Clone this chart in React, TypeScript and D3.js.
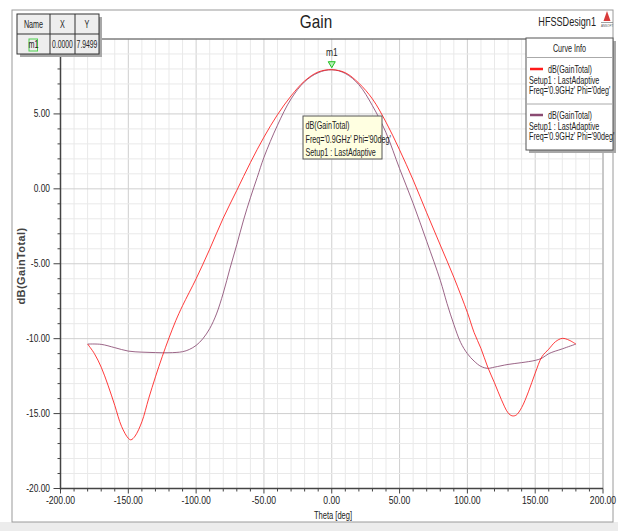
import React from "react";
import * as d3 from "d3";

// theta samples (deg) and gain (dB)
const thetaPhi0 = [-180, -175, -170, -165, -160, -155, -150, -148, -145, -140, -135, -130, -125, -120, -115, -110, -100, -90, -80, -70, -60, -50, -40, -30, -20, -10, 0, 10, 20, 30, 40, 50, 60, 70, 80, 90, 100, 105, 110, 115, 120, 125, 130, 133, 136, 140, 145, 150, 155, 160, 165, 170, 175, 180];
const gainPhi0 = [-10.36, -11.0, -11.9, -13.1, -14.45, -15.85, -16.65, -16.75, -16.5, -15.55, -14.0, -12.55, -11.2, -9.95, -8.8, -7.8, -6.0, -4.03, -1.95, -0.1, 1.75, 3.45, 4.95, 6.2, 7.2, 7.8, 7.95, 7.75, 7.05, 6.0, 4.45, 2.6, 0.59, -1.6, -3.75, -5.9, -8.25, -9.6, -10.65, -11.9, -12.95, -14.05, -14.95, -15.15, -15.1, -14.6, -13.55, -12.3, -11.2, -10.7, -10.2, -9.98, -10.1, -10.36];

const thetaPhi90 = [-180, -170, -160, -150, -140, -130, -120, -110, -105, -100, -95, -90, -85, -80, -75, -70, -65, -60, -55, -50, -40, -30, -20, -10, 0, 10, 20, 30, 40, 50, 60, 70, 80, 85, 90, 95, 100, 105, 110, 115, 120, 130, 140, 150, 155, 160, 170, 180];
const gainPhi90 = [-10.36, -10.38, -10.6, -10.83, -10.9, -10.93, -10.94, -10.87, -10.72, -10.45, -10.0, -9.33, -8.35, -6.96, -5.3, -3.72, -2.07, -0.6, 0.75, 2.1, 4.25, 6.0, 7.15, 7.75, 7.95, 7.7, 6.95, 5.55, 3.75, 1.35, -0.97, -3.5, -6.1, -7.65, -9.05, -10.25, -11.0, -11.5, -11.85, -11.98, -11.9, -11.72, -11.6, -11.45, -11.3, -11.0, -10.68, -10.36];

const xTicks = [-200, -150, -100, -50, 0, 50, 100, 150, 200];
const yTicks = [-20, -15, -10, -5, 0, 5];

const legendEntries = [
  { color: "#ff1a1a", lines: ["dB(GainTotal)", "Setup1 : LastAdaptive", "Freq='0.9GHz' Phi='0deg'"] },
  { color: "#8a4a72", lines: ["dB(GainTotal)", "Setup1 : LastAdaptive", "Freq='0.9GHz' Phi='90deg'"] },
];

const markerX = 0;
const markerY = 7.9499;

const FONT = "'Liberation Sans', Arial, sans-serif";

// no narrow font installed, so squeeze the glyphs horizontally
const NT = ({ x, y, size, sx = 0.72, anchor = "start", fill = "#222", children }: any) => (
  <text transform={`translate(${x},${y}) scale(${sx},1)`} fontSize={size} textAnchor={anchor} fill={fill}>
    {children}
  </text>
);

export default function App() {
  const W = 618;
  const H = 531;
  const x = d3.scaleLinear().domain([-200, 200]).range([60.5, 603]);
  const y = d3.scaleLinear().domain([-20, 10]).range([488.5, 39]);

  const line = d3
    .line<[number, number]>()
    .x((d) => x(d[0]))
    .y((d) => y(d[1]))
    .curve(d3.curveCatmullRom.alpha(0.5));

  const red = line(thetaPhi0.map((t, i) => [t, gainPhi0[i]]) as [number, number][]);
  const purple = line(thetaPhi90.map((t, i) => [t, gainPhi90[i]]) as [number, number][]);

  const xMinor = d3.range(-200, 201, 10);
  const yMinor = d3.range(-20, 10.01, 1);

  const [x0, x1] = x.range();
  const [y0, y1] = y.range();

  return (
    <svg width={W} height={H} style={{ position: "absolute", left: 0, top: 0 }} fontFamily={FONT}>
      <rect x={0} y={0} width={W} height={H} fill="#fff" />
      <rect x={0} y={522} width={W} height={9} fill="#ececec" />
      <rect x={12} y={10} width={601} height={512} fill="#fff" stroke="#9a9a9a" />

      {/* grid */}
      {xMinor.map((v) => (
        <line key={"gx" + v} x1={x(v)} x2={x(v)} y1={y1} y2={y0} stroke={v % 50 === 0 ? "#cfcfcf" : "#e9e9e9"} strokeWidth={1} />
      ))}
      {yMinor.map((v) => (
        <line key={"gy" + v} x1={x0} x2={x1} y1={y(v)} y2={y(v)} stroke={Math.round(v) % 5 === 0 ? "#cfcfcf" : "#e9e9e9"} strokeWidth={1} />
      ))}

      {/* frame */}
      <line x1={x0} x2={x1} y1={y1} y2={y1} stroke="#555" />
      <line x1={x1} x2={x1} y1={y1} y2={y0} stroke="#aaa" />
      <line x1={x0} x2={x0} y1={y1} y2={y0 + 1} stroke="#444" strokeWidth={1.5} />
      <line x1={x0} x2={x1} y1={y0} y2={y0} stroke="#444" strokeWidth={1.5} />

      {/* ticks */}
      {xMinor.map((v) => (
        <line key={"tx" + v} x1={x(v)} x2={x(v)} y1={y0} y2={y0 + (v % 50 === 0 ? 5 : 3)} stroke="#444" />
      ))}
      {yMinor.map((v) => (
        <line key={"ty" + v} x1={x0 - (Math.round(v) % 5 === 0 ? 7 : 3)} x2={x0} y1={y(v)} y2={y(v)} stroke="#444" />
      ))}
      {xTicks.map((v) => (
        <NT key={"lx" + v} x={x(v)} y={504} size={10.5} sx={0.82} anchor="middle">
          {v.toFixed(2)}
        </NT>
      ))}
      {yTicks.map((v) => (
        <NT key={"ly" + v} x={50} y={y(v) + 3.5} size={10.5} sx={0.8} anchor="end">
          {v.toFixed(2)}
        </NT>
      ))}
      <NT x={333} y={519} size={10.5} sx={0.72} anchor="middle">
        Theta [deg]
      </NT>
      <text transform="translate(25,266) rotate(-90)" fontSize={11} fontWeight="bold" textAnchor="middle" fill="#444" letterSpacing={0.4}>
        dB(GainTotal)
      </text>

      {/* curves */}
      <path d={purple ?? ""} fill="none" stroke="#8a4a72" strokeWidth={1} strokeOpacity={0.85} />
      <path d={red ?? ""} fill="none" stroke="#ff1a1a" strokeWidth={1} strokeOpacity={0.85} />

      {/* marker */}
      <path d={`M${x(markerX) - 3.5},${y(markerY) - 8} L${x(markerX) + 3.5},${y(markerY) - 8} L${x(markerX)},${y(markerY) - 2} Z`} fill="#b8f0b8" stroke="#1fbf1f" strokeWidth={1} />
      <NT x={x(markerX)} y={y(markerY) - 14} size={10.5} sx={0.8} anchor="middle">
        m1
      </NT>

      {/* tooltip */}
      <rect x={303} y={116} width={79} height={43} fill="#ffffe1" stroke="#555" />
      <NT x={305.5} y={128.5} size={10}>dB(GainTotal)</NT>
      <NT x={305.5} y={142.5} size={10}>Freq='0.9GHz' Phi='90deg'</NT>
      <NT x={305.5} y={156} size={10}>Setup1 : LastAdaptive</NT>

      {/* title */}
      <NT x={316} y={28} size={18} sx={0.85} anchor="middle">Gain</NT>
      <NT x={596} y={26} size={13} sx={0.7} anchor="end">HFSSDesign1</NT>
      <path d="M603.5,21 L607,11 L610.5,21 Z" fill="#d83a3a" />
      <line x1={601} x2={613} y1={22.5} y2={22.5} stroke="#888" strokeWidth={0.8} />
      <text x={607} y={26.5} fontSize={3} textAnchor="middle" fill="#555">ANSOFT</text>

      {/* marker table */}
      <rect x={20} y={17} width={82} height={40} fill="#a8a8a8" />
      <rect x={17} y={14} width={82} height={40} fill="#eeeeee" stroke="#333" />
      <line x1={17} x2={99} y1={34} y2={34} stroke="#333" />
      <line x1={50} x2={50} y1={14} y2={54} stroke="#333" />
      <line x1={75} x2={75} y1={14} y2={54} stroke="#333" />
      <NT x={33.5} y={28} size={10} anchor="middle">Name</NT>
      <NT x={62.5} y={28} size={10} anchor="middle">X</NT>
      <NT x={87} y={28} size={10} anchor="middle">Y</NT>
      <rect x={29} y={39} width={8.5} height={12} fill="none" stroke="#4cd04c" />
      <NT x={33.5} y={48} size={10} anchor="middle">m1</NT>
      <NT x={62.5} y={48} size={10} sx={0.68} anchor="middle">{markerX.toFixed(4)}</NT>
      <NT x={87} y={48} size={10} sx={0.68} anchor="middle">{markerY.toFixed(4)}</NT>

      {/* legend */}
      <rect x={529} y={41} width={87} height={112} fill="#a8a8a8" />
      <rect x={526} y={38} width={87} height={112} fill="#fff" stroke="#555" />
      <NT x={569.5} y={51.5} size={10} anchor="middle">Curve Info</NT>
      <line x1={526} x2={613} y1={57.5} y2={57.5} stroke="#aaa" />
      <line x1={526} x2={613} y1={104} y2={104} stroke="#aaa" />
      {legendEntries.map((e, i) => {
        const top = 58 + i * 46;
        return (
          <g key={i}>
            <line x1={530} x2={543} y1={top + 11} y2={top + 11} stroke={e.color} strokeWidth={2.5} />
            <NT x={548} y={top + 14.5} size={10}>{e.lines[0]}</NT>
            <NT x={529} y={top + 25.5} size={10}>{e.lines[1]}</NT>
            <NT x={529} y={top + 36} size={10}>{e.lines[2]}</NT>
          </g>
        );
      })}
    </svg>
  );
}
